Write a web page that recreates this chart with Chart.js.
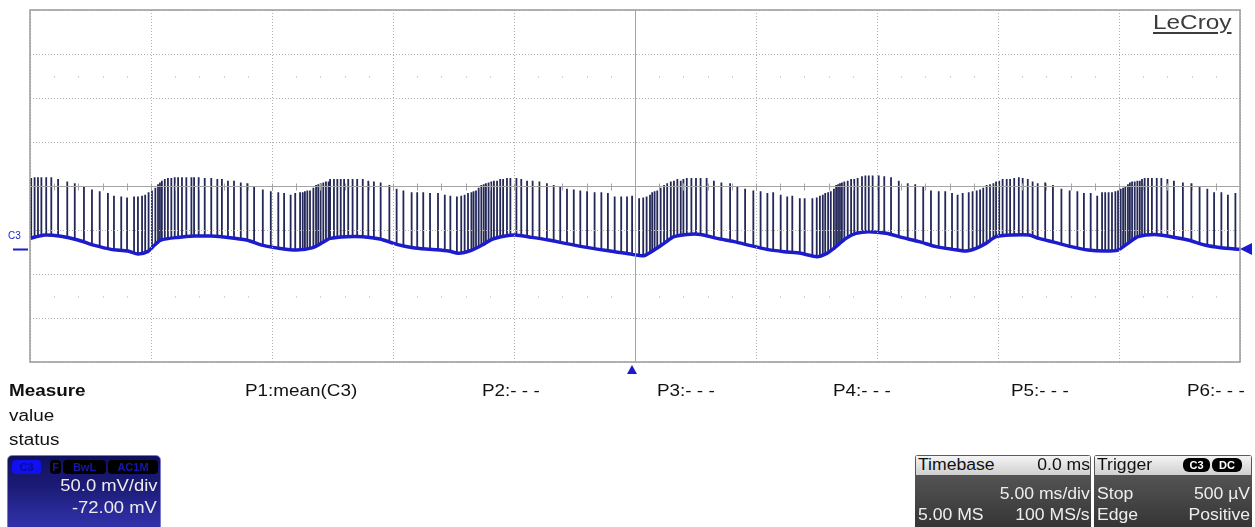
<!DOCTYPE html>
<html>
<head>
<meta charset="utf-8">
<script src="https://cdn.jsdelivr.net/npm/chart.js@4.4.1/dist/chart.umd.min.js"></script>
<style>
  html, body { margin: 0; padding: 0; background: #fff; }
  #wrap { position: relative; width: 1255px; height: 527px; overflow: hidden; }
  #scope { position: absolute; left: 0; top: 0; }
  .t { position: absolute; white-space: nowrap; font: 16px "Liberation Sans", Arial, sans-serif; line-height: 18px;
       color: #111; transform: scaleX(1.18); transform-origin: left center; }
  .r { transform-origin: right center; }
  .box { position: absolute; overflow: hidden; }
  .badge { position: absolute; height: 14px; border-radius: 4px; font: bold 11px "Liberation Sans", Arial, sans-serif;
           line-height: 14px; text-align: center; }
</style>
</head>
<body>
<div id="wrap">
  <canvas id="scope"></canvas>

  <div class="t" style="left:1153px;top:10px;font-size:21px;line-height:23px;color:#3c3c3c;text-decoration:underline;text-decoration-thickness:2px;text-underline-offset:3px;transform:scaleX(1.16)">LeCroy</div>
  <div class="t" style="left:8px;top:230px;font-size:10px;line-height:12px;color:#1a1acc;transform:none">C3</div>

  <div class="t" style="left:9px;top:382px;font-weight:bold">Measure</div>
  <div class="t" style="left:245px;top:382px">P1:mean(C3)</div>
  <div class="t" style="left:482px;top:382px">P2:- - -</div>
  <div class="t" style="left:657px;top:382px">P3:- - -</div>
  <div class="t" style="left:833px;top:382px">P4:- - -</div>
  <div class="t" style="left:1011px;top:382px">P5:- - -</div>
  <div class="t" style="left:1187px;top:382px">P6:- - -</div>
  <div class="t" style="left:9px;top:407px">value</div>
  <div class="t" style="left:9px;top:431px">status</div>

  <!-- channel descriptor -->
  <div class="box" style="left:7px;top:455px;width:152px;height:80px;border:1px solid #7a7ac8;border-radius:5px;
       background:linear-gradient(#101060 0%, #1c1c78 40%, #2a2a9a 70%, #3434b4 100%)">
    <div class="badge" style="left:4px;top:4px;width:29px;background:#1010f0;color:#0a0aa0;border-radius:4px">C3</div>
    <div class="badge" style="left:42px;top:4px;width:11px;background:#000;color:#1818a8">F</div>
    <div class="badge" style="left:55px;top:4px;width:43px;background:#000;color:#1818a8">BwL</div>
    <div class="badge" style="left:100px;top:4px;width:50px;background:#000;color:#1818a8">AC1M</div>
  </div>
  <div class="t r" style="right:1098px;top:477px;color:#ececec;transform:scaleX(1.15)">50.0 mV/div</div>
  <div class="t r" style="right:1098px;top:499px;color:#ececec;transform:scaleX(1.15)">-72.00 mV</div>

  <!-- timebase -->
  <div class="box" style="left:915px;top:455px;width:176px;height:75px;border-radius:3px;
       background:linear-gradient(#5c5c5c 0%, #4a4a4a 50%, #333 100%)">
    <div style="position:absolute;left:1px;top:1px;right:1px;height:19px;background:linear-gradient(#f4f4f4,#cfcfcf)"></div>
  </div>
  <div class="t" style="left:918px;top:456px;color:#111;transform:scaleX(1.1)">Timebase</div>
  <div class="t r" style="right:165px;top:456px;color:#111;transform:scaleX(1.1)">0.0 ms</div>
  <div class="t r" style="right:165px;top:485px;color:#eee;transform:scaleX(1.1)">5.00 ms/div</div>
  <div class="t" style="left:918px;top:506px;color:#eee;transform:scaleX(1.1)">5.00 MS</div>
  <div class="t r" style="right:165px;top:506px;color:#eee;transform:scaleX(1.1)">100 MS/s</div>

  <!-- trigger -->
  <div class="box" style="left:1094px;top:455px;width:158px;height:75px;border-radius:3px;
       background:linear-gradient(#5c5c5c 0%, #4a4a4a 50%, #333 100%)">
    <div style="position:absolute;left:1px;top:1px;right:1px;height:19px;background:linear-gradient(#f4f4f4,#cfcfcf)"></div>
    <div class="badge" style="left:89px;top:3px;width:27px;background:#000;color:#fff;border-radius:6px">C3</div>
    <div class="badge" style="left:118px;top:3px;width:30px;background:#000;color:#fff;border-radius:6px">DC</div>
  </div>
  <div class="t" style="left:1097px;top:456px;color:#111;transform:scaleX(1.1)">Trigger</div>
  <div class="t" style="left:1097px;top:485px;color:#eee;transform:scaleX(1.1)">Stop</div>
  <div class="t r" style="right:5px;top:485px;color:#eee;transform:scaleX(1.1)">500 µV</div>
  <div class="t" style="left:1097px;top:506px;color:#eee;transform:scaleX(1.1)">Edge</div>
  <div class="t r" style="right:5px;top:506px;color:#eee;transform:scaleX(1.1)">Positive</div>
</div>

<script>
// time axis in ms (5 ms/div, 10 div), channel C3 in mV (50 mV/div, offset -72 mV)
const X_MIN = -25, X_MAX = 25;
const Y_MIN = -128, Y_MAX = 272;
const yGridMv = [-128, -78, -28, 22, 72, 122, 172, 222, 272];
const Y_CENTER = 72;
const TRIG_LEVEL = 0.5; // mV

// slow baseline of the trace
const baseT = [
  -25.0, -24.39, -23.72, -23.02, -22.33, -21.65, -20.95, -20.54, -20.12, -19.85,
  -19.59, -18.89, -18.20, -17.52, -16.82, -16.05, -15.37, -14.67, -13.98, -13.31,
  -12.89, -12.60, -11.91, -11.24, -10.54, -9.85, -9.17, -8.47, -7.70, -7.29,
  -6.74, -6.32, -5.91, -5.37, -4.96, -4.26, -3.57, -2.89, -2.19, -1.50,
  -0.83, -0.12, 0.37, 0.79, 1.20, 1.61, 2.15, 2.71, 3.39, 4.09,
  4.78, 5.45, 6.16, 6.85, 7.52, 7.93, 8.22, 8.72, 9.13, 9.67,
  10.37, 11.06, 11.74, 12.44, 13.13, 13.68, 14.09, 14.50, 14.92, 15.61,
  16.28, 16.69, 17.34, 18.02, 18.72, 19.41, 19.96, 20.37, 20.79, 21.48,
  22.15, 22.85, 23.54, 24.21, 25.0
];
const baseMv = [
  12.5, 16.3, 14.8, 10.6, 4.5, 0, -1.9, -5.3, -2.3, 4.9,
  10.6, 13.6, 15.1, 15.1, 13.6, 10.6, 4.5, 1.1, -0.8, 1.9,
  8.0, 12.5, 14.4, 14.4, 11.7, 5.7, 1.9, 0, -1.9, -4.5,
  -0.8, 4.9, 11.4, 15.1, 16.3, 13.6, 10.6, 6.8, 3.1, 0,
  -2.6, -5.7, -7.2, -0.8, 6.8, 14.4, 17.0, 17.0, 12.5, 8.8,
  4.2, 0, -2.6, -4.5, -8.3, -4.5, 1.1, 12.5, 18.2, 20.1,
  18.2, 13.3, 8.8, 3.1, 0, -1.9, 1.1, 6.8, 14.4, 16.3,
  16.3, 12.5, 8.0, 3.1, -0.8, -1.9, -0.8, 6.8, 14.4, 17.0,
  14.4, 10.6, 4.9, 1.9, 0
];

// switching spikes: time (ms) and peak (mV)
const spikeT = [
  -24.98, -24.95, -24.81, -24.67, -24.53, -24.33, -24.12, -23.84, -23.46, -23.15,
  -22.77, -22.44, -22.12, -21.78, -21.53, -21.23, -20.99, -20.70, -20.54, -20.37,
  -20.24, -20.10, -19.96, -19.82, -19.71, -19.63, -19.55, -19.43, -19.30, -19.16,
  -19.02, -18.88, -18.72, -18.54, -18.33, -18.22, -18.03, -17.78, -17.51, -17.26,
  -17.07, -16.82,
  -16.57, -16.29, -16.02, -15.74, -15.38, -15.05, -14.74, -14.50, -14.23, -14.04,
  -13.84, -13.73, -13.64, -13.54, -13.43, -13.29, -13.18, -13.09, -12.99, -12.88,
  -12.77, -12.66, -12.60, -12.44, -12.30, -12.16, -12.02, -11.85, -11.67, -11.48,
  -11.25, -11.02, -10.79, -10.51, -10.15, -9.85, -9.57, -9.23, -9.00, -8.75,
  -8.47,
  -8.14, -7.86, -7.63, -7.36, -7.18, -7.04, -6.90, -6.76, -6.67, -6.57,
  -6.46, -6.35, -6.25, -6.16, -6.05, -5.94, -5.83, -5.70, -5.57, -5.45,
  -5.29, -5.15, -4.90, -4.70, -4.46, -4.23, -3.95, -3.64, -3.36, -3.09,
  -2.81, -2.53, -2.26, -1.98, -1.67, -1.39, -1.12, -0.84, -0.57, -0.33,
  -0.12,
  0.17, 0.34, 0.48, 0.62, 0.71, 0.81, 0.92, 1.06, 1.20, 1.33,
  1.48, 1.61, 1.75, 1.89, 2.00, 2.14, 2.33, 2.52, 2.71, 2.96,
  3.26, 3.57, 3.93, 4.23, 4.55, 4.89, 5.19, 5.47, 5.71, 6.02,
  6.29, 6.50, 6.81, 7.01, 7.33, 7.51, 7.64, 7.76, 7.86, 7.98,
  8.09, 8.22,
  8.31, 8.39, 8.47, 8.55, 8.65, 8.79, 8.93, 9.06, 9.20, 9.38,
  9.52, 9.66, 9.82, 10.07, 10.30, 10.58, 10.90, 11.27, 11.58, 11.91,
  12.23, 12.55, 12.82, 13.10, 13.33, 13.54, 13.79, 13.95, 14.12, 14.26,
  14.39, 14.53, 14.67, 14.81, 14.92, 15.05, 15.19, 15.36, 15.50, 15.67,
  15.86, 16.02, 16.23, 16.43, 16.64,
  16.95, 17.27, 17.62, 17.96, 18.28, 18.55, 18.83, 19.10, 19.30, 19.43,
  19.57, 19.71, 19.85, 19.96, 20.07, 20.17, 20.26, 20.37, 20.45, 20.54,
  20.65, 20.76, 20.86, 20.95, 21.06, 21.20, 21.36, 21.56, 21.75, 22.00,
  22.27, 22.64, 22.99, 23.33, 23.65, 23.93, 24.23, 24.50, 24.81
];
const spikeMv = [
  81, 81, 82, 82, 82, 82, 82, 80, 77, 75,
  72, 68, 66, 64, 61, 60, 59, 60, 60, 61,
  62, 65, 67, 70, 74, 76, 78, 80, 81, 81,
  82, 82, 82, 82, 82, 82, 82, 81, 81, 80,
  80, 78,
  78, 76, 75, 72, 68, 66, 65, 64, 62, 64,
  65, 65, 66, 67, 67, 70, 73, 74, 75, 76,
  77, 77, 80, 80, 80, 80, 80, 80, 80, 80,
  80, 78, 77, 76, 73, 69, 67, 65, 65, 65,
  64,
  64, 62, 61, 60, 61, 62, 64, 65, 66, 67,
  70, 73, 74, 75, 76, 77, 78, 78, 80, 80,
  81, 81, 81, 80, 78, 78, 77, 75, 73, 72,
  69, 68, 67, 66, 65, 65, 64, 60, 60, 60,
  61,
  58, 59, 60, 62, 65, 66, 67, 70, 73, 75,
  77, 78, 80, 78, 80, 81, 81, 81, 81, 81,
  78, 76, 75, 72, 69, 67, 66, 64, 65, 62,
  60, 61, 58, 58, 58, 59, 61, 62, 64, 65,
  66, 69,
  73, 74, 75, 76, 77, 78, 80, 80, 81, 83,
  84, 84, 84, 84, 83, 82, 78, 75, 74, 72,
  67, 66, 66, 64, 62, 64, 65, 66, 67, 68,
  70, 73, 74, 75, 77, 78, 80, 80, 80, 81,
  82, 81, 80, 77, 75,
  76, 73, 69, 67, 66, 64, 64, 61, 65, 65,
  65, 65, 66, 67, 69, 70, 72, 74, 76, 77,
  77, 78, 78, 80, 81, 81, 81, 81, 81, 80,
  78, 76, 75, 72, 69, 65, 65, 62, 64
];

const baseData = baseT.map((t, i) => ({ x: t, y: baseMv[i] }));
// each spike is a vertical stroke; the part below the trace gets hidden by the trace's white fill
const spikeData = [];
spikeT.forEach((t, i) => {
  spikeData.push({ x: t, y: Y_MIN }, { x: t, y: spikeMv[i] }, { x: t, y: null });
});

const TRACE = '#1c1ccc';

// graticule extras: frame, solid centre cross with minor ticks, channel / trigger markers
const scopeDecor = {
  id: 'scopeDecor',
  afterDraw(chart) {
    const { ctx, chartArea: a, scales: { x, y } } = chart;
    ctx.save();
    ctx.strokeStyle = '#9a9a9a';
    ctx.lineWidth = 1.5;
    ctx.strokeRect(a.left, a.top, a.right - a.left, a.bottom - a.top);

    const cx = Math.round(x.getPixelForValue(0)) + 0.5;
    const cy = Math.round(y.getPixelForValue(Y_CENTER)) + 0.5;
    ctx.lineWidth = 1;
    ctx.strokeStyle = '#a4a4a4';
    ctx.beginPath();
    ctx.moveTo(a.left, cy); ctx.lineTo(a.right, cy);
    ctx.moveTo(cx, a.top); ctx.lineTo(cx, a.bottom);
    for (let t = X_MIN + 1; t < X_MAX; t += 1) {
      const px = Math.round(x.getPixelForValue(t)) + 0.5;
      ctx.moveTo(px, cy - 3); ctx.lineTo(px, cy + 4);
    }
    ctx.stroke();

    // faint minor dots half way in the outer divisions
    ctx.fillStyle = '#d4d4d4';
    [Y_CENTER + 125, Y_CENTER - 125].forEach(v => {
      const py = Math.round(y.getPixelForValue(v));
      for (let t = X_MIN + 1; t < X_MAX; t += 1) {
        if (t % 5 === 0) continue;
        ctx.fillRect(Math.round(x.getPixelForValue(t)), py, 1, 2);
      }
    });

    // channel ground marker (left)
    const y0 = Math.round(y.getPixelForValue(0));
    ctx.strokeStyle = TRACE;
    ctx.lineWidth = 2;
    ctx.beginPath();
    ctx.moveTo(13, y0 + 0.5); ctx.lineTo(28, y0 + 0.5);
    ctx.stroke();

    // trigger level (right) and trigger position (bottom)
    ctx.fillStyle = TRACE;
    const yt = y.getPixelForValue(TRIG_LEVEL);
    ctx.beginPath();
    ctx.moveTo(a.right, yt); ctx.lineTo(a.right + 12, yt - 6); ctx.lineTo(a.right + 12, yt + 6);
    ctx.closePath(); ctx.fill();
    const xt = x.getPixelForValue(0) - 3;
    ctx.beginPath();
    ctx.moveTo(xt, a.bottom + 3); ctx.lineTo(xt - 5, a.bottom + 12); ctx.lineTo(xt + 5, a.bottom + 12);
    ctx.closePath(); ctx.fill();
    ctx.restore();
  }
};

const canvas = document.getElementById('scope');
canvas.width = 1255;
canvas.height = 527;

new Chart(canvas.getContext('2d'), {
  type: 'line',
  data: {
    datasets: [
      {
        label: 'C3 trace',
        data: baseData,
        borderColor: TRACE,
        borderWidth: 3.5,
        backgroundColor: '#ffffff',
        fill: 'start',
        pointRadius: 0,
        tension: 0.25
      },
      {
        label: 'C3 spikes',
        data: spikeData,
        borderColor: '#242858',
        borderWidth: 1.8,
        pointRadius: 0,
        spanGaps: false,
        fill: false
      }
    ]
  },
  options: {
    responsive: false,
    animation: false,
    events: [],
    layout: { padding: { left: 30, right: 15, top: 10, bottom: 165 } },
    plugins: { legend: { display: false }, tooltip: { enabled: false } },
    scales: {
      x: {
        type: 'linear',
        min: X_MIN, max: X_MAX,
        ticks: { display: false, stepSize: 5 },
        grid: { color: '#b0b0b0', lineWidth: 1, drawTicks: false, z: 1 },
        border: { display: false, dash: [1, 2] }
      },
      y: {
        type: 'linear',
        min: Y_MIN, max: Y_MAX,
        afterBuildTicks: (scale) => { scale.ticks = yGridMv.map(v => ({ value: v })); },
        ticks: { display: false },
        grid: { color: '#b0b0b0', lineWidth: 1, drawTicks: false, z: 1 },
        border: { display: false, dash: [1, 2] }
      }
    }
  },
  plugins: [scopeDecor]
});
</script>
</body>
</html>
